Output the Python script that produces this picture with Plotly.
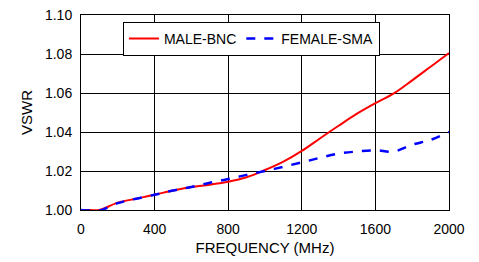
import plotly.graph_objects as go

freq = [0, 50, 100, 200, 300, 400, 500, 600, 700, 800, 900, 1000, 1100, 1200, 1300, 1400, 1500, 1600, 1700, 1800, 1900, 2000]
male_bnc = [1.000, 1.000, 1.0000, 1.0038, 1.0058, 1.0078, 1.0100, 1.0118, 1.0130, 1.0145, 1.0168, 1.0205, 1.0248, 1.0303, 1.0368, 1.0432, 1.0494, 1.0548, 1.0598, 1.0665, 1.0735, 1.0805]
female_sma = [1.000, 0.9997, 0.9997, 1.0035, 1.0058, 1.0078, 1.0100, 1.0118, 1.0140, 1.0159, 1.0180, 1.0200, 1.0222, 1.0244, 1.0268, 1.0289, 1.0300, 1.0306, 1.0300, 1.0335, 1.0360, 1.0400]
x_ticks = [0, 400, 800, 1200, 1600, 2000]
y_ticks = [1.00, 1.02, 1.04, 1.06, 1.08, 1.10]

fig = go.Figure()
fig.add_trace(go.Scatter(x=freq, y=male_bnc, mode="lines", name="MALE-BNC",
                         line=dict(color="#ff0000", width=2, shape="spline", smoothing=1.0)))
fig.add_trace(go.Scatter(x=freq, y=female_sma, mode="lines", name="FEMALE-SMA",
                         line=dict(color="#0000ff", width=2.5, dash="dash", shape="spline", smoothing=1.0)))

axis_common = dict(showline=True, linecolor="black", linewidth=1, mirror=True,
                   showgrid=True, gridcolor="black", gridwidth=1, zeroline=False,
                   ticks="", automargin=False, tickfont=dict(size=14, color="black"))
fig.update_xaxes(range=[0, 2000], tickvals=x_ticks, ticktext=[str(v) for v in x_ticks],
                 ticklabelstandoff=6,
                 title=dict(text="FREQUENCY (MHz)", font=dict(size=15, color="black"), standoff=6),
                 **axis_common)
fig.update_yaxes(range=[1.0, 1.10], tickvals=y_ticks, ticktext=[f"{v:.2f}" for v in y_ticks],
                 ticklabelstandoff=5,
                 title=dict(text="VSWR", font=dict(size=15, color="black"), standoff=8),
                 **axis_common)
fig.update_layout(
    width=479, height=262,
    margin=dict(l=81, r=30, t=15, b=52),
    paper_bgcolor="white", plot_bgcolor="white",
    font=dict(family="Liberation Sans, Arial, sans-serif", size=14, color="black"),
    legend=dict(orientation="h", x=0.114, y=0.965, xanchor="left", yanchor="top",
                bgcolor="white", bordercolor="black", borderwidth=1,
                font=dict(size=14), tracegroupgap=0),
)
fig.write_html("out.html", config={"displayModeBar": False},
               post_script="document.body.style.margin='0';")
